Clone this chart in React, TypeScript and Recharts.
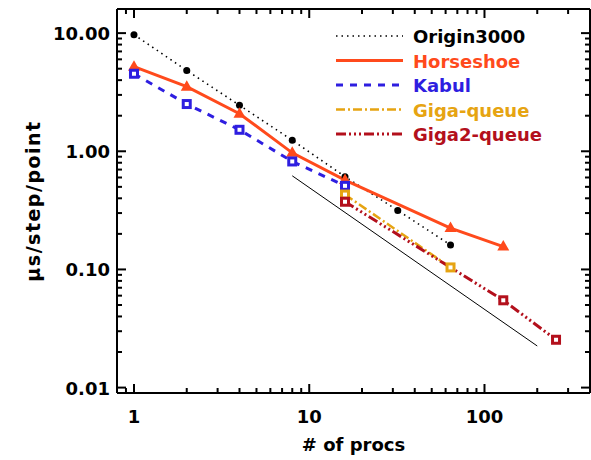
import React from 'react';
import { LineChart, Line, XAxis, YAxis, Label } from 'recharts';

// timings (µs per step per grid point)
const originProcs = [1, 2, 4, 8, 16, 32, 64];
const originTime = [9.7, 4.83, 2.45, 1.24, 0.61, 0.316, 0.161];
const horseshoeProcs = [1, 2, 4, 8, 16, 64, 128];
const horseshoeTime = [5.2, 3.52, 2.08, 0.97, 0.57, 0.224, 0.156];
const kabulProcs = [1, 2, 4, 8, 16];
const kabulTime = [4.53, 2.51, 1.52, 0.82, 0.51];
const gigaProcs = [16, 64];
const gigaTime = [0.43, 0.104];
const giga2Procs = [16, 128, 256];
const giga2Time = [0.374, 0.0548, 0.0254];
// thin reference line (ideal scaling)
const idealProcs = [8, 200];
const idealTime = [0.62, 0.0225];

const xMajorTicks = [1, 10, 100];
const xMinorTicks = [0.9, 2, 3, 4, 5, 6, 7, 8, 9, 20, 30, 40, 50, 60, 70, 80, 90, 200, 300];
const yMajorTicks = [0.01, 0.1, 1, 10];
const yMajorLabels = ['0.01', '0.10', '1.00', '10.00'];
const yMinorTicks = [
  0.02, 0.03, 0.04, 0.05, 0.06, 0.07, 0.08, 0.09,
  0.2, 0.3, 0.4, 0.5, 0.6, 0.7, 0.8, 0.9,
  2, 3, 4, 5, 6, 7, 8, 9,
];

const FONT = '"DejaVu Sans", Verdana, sans-serif';

const toPoints = (xs: number[], ys: number[]) => xs.map((x, i) => ({ x, y: ys[i] }));

type Series = {
  name: string;
  color: string;
  width: number;
  dash?: string;
  marker: 'circle' | 'triangle' | 'square' | 'none';
  data: { x: number; y: number }[];
};

const series: Series[] = [
  { name: 'Origin3000', color: '#000000', width: 1.6, dash: '1.5 4', marker: 'circle', data: toPoints(originProcs, originTime) },
  { name: 'Horseshoe', color: '#ff4a1c', width: 3, marker: 'triangle', data: toPoints(horseshoeProcs, horseshoeTime) },
  { name: 'Kabul', color: '#2e1ee0', width: 3, dash: '7 7', marker: 'square', data: toPoints(kabulProcs, kabulTime) },
  { name: 'Giga-queue', color: '#e6a412', width: 2.5, dash: '9 3 2 3', marker: 'square', data: toPoints(gigaProcs, gigaTime) },
  { name: 'Giga2-queue', color: '#b3101c', width: 3, dash: '10 3 2 3 2 3 2 3', marker: 'square', data: toPoints(giga2Procs, giga2Time) },
];

const idealData = toPoints(idealProcs, idealTime);

function makeDot(s: Series) {
  return (p: any) => {
    const { cx, cy, index } = p;
    if (cx == null || cy == null) return <g key={index} />;
    if (s.marker === 'circle') {
      return <circle key={index} cx={cx} cy={cy} r={3.5} fill={s.color} />;
    }
    if (s.marker === 'triangle') {
      return (
        <path key={index} d={`M${cx},${cy - 6.5} L${cx + 6},${cy + 4} L${cx - 6},${cy + 4} Z`} fill={s.color} />
      );
    }
    if (s.marker === 'square') {
      return (
        <rect key={index} x={cx - 3.5} y={cy - 3.5} width={7} height={7} fill="#fff" stroke={s.color} strokeWidth={3} />
      );
    }
    return <g key={index} />;
  };
}

const textStyle = { fontFamily: FONT, fontWeight: 700, fontSize: 18 } as const;

function BottomTick(props: any) {
  const { x, y, payload } = props;
  const major = xMajorTicks.includes(payload.value);
  return (
    <g>
      <path d={`M${x},${y} L${x},${y - (major ? 9 : 5)}`} stroke="#000" strokeWidth={2} fill="none" />
      {major && (
        <text x={x} y={y + 30} textAnchor="middle" fill="#000" style={textStyle}>
          {payload.value}
        </text>
      )}
    </g>
  );
}

function TopTick(props: any) {
  const { x, y, payload } = props;
  const major = xMajorTicks.includes(payload.value);
  return <path d={`M${x},${y} L${x},${y + (major ? 9 : 5)}`} stroke="#000" strokeWidth={2} fill="none" />;
}

function LeftTick(props: any) {
  const { x, y, payload } = props;
  const idx = yMajorTicks.indexOf(payload.value);
  const major = idx >= 0;
  return (
    <g>
      <path d={`M${x},${y} L${x + (major ? 9 : 5)},${y}`} stroke="#000" strokeWidth={2} fill="none" />
      {major && (
        <text x={x - 7} y={y + 7} textAnchor="end" fill="#000" style={textStyle}>
          {yMajorLabels[idx]}
        </text>
      )}
    </g>
  );
}

function RightTick(props: any) {
  const { x, y, payload } = props;
  const major = yMajorTicks.includes(payload.value);
  return <path d={`M${x},${y} L${x - (major ? 9 : 5)},${y}`} stroke="#000" strokeWidth={2} fill="none" />;
}

const xTicks = [...xMinorTicks, ...xMajorTicks].sort((a, b) => a - b);
const yTicks = [...yMinorTicks, ...yMajorTicks].sort((a, b) => a - b);

function LegendOverlay() {
  const x0 = 336;
  const x1 = 403;
  const top = 36;
  const step = 24.5;
  return (
    <svg width={591} height={460} style={{ position: 'absolute', left: 0, top: 0, pointerEvents: 'none' }}>
      {series.map((s, i) => {
        const y = top + i * step;
        return (
          <g key={s.name}>
            <line x1={x0} x2={x1} y1={y} y2={y} stroke={s.color} strokeWidth={s.width} strokeDasharray={s.dash} />
            <text x={413} y={y + 7} fill={s.color} style={textStyle}>
              {s.name}
            </text>
          </g>
        );
      })}
    </svg>
  );
}

export default function App() {
  return (
    <div style={{ position: 'absolute', left: 0, top: 0, width: 591, height: 460, background: '#fff' }}>
      <LineChart width={591} height={460} margin={{ top: 8, right: 0, bottom: 0, left: 0 }}>
        <XAxis
          xAxisId="bottom"
          type="number"
          dataKey="x"
          scale="log"
          domain={[0.8, 400]}
          allowDataOverflow
          ticks={xTicks}
          interval={0}
          height={67}
          tickSize={0}
          tickMargin={0}
          tickLine={false}
          axisLine={{ stroke: '#000', strokeWidth: 2 }}
          tick={<BottomTick />}
        >
          <Label
            content={(p: any) => {
              const vb = p.viewBox;
              return (
                <text x={vb.x + vb.width / 2} y={vb.y + 58} textAnchor="middle" fill="#000" style={textStyle}>
                  # of procs
                </text>
              );
            }}
          />
        </XAxis>
        <XAxis
          xAxisId="top"
          orientation="top"
          type="number"
          dataKey="x"
          scale="log"
          domain={[0.8, 400]}
          allowDataOverflow
          ticks={xTicks}
          interval={0}
          height={1}
          tickSize={0}
          tickMargin={0}
          tickLine={false}
          axisLine={{ stroke: '#000', strokeWidth: 2 }}
          tick={<TopTick />}
        />
        <YAxis
          yAxisId="left"
          type="number"
          dataKey="y"
          scale="log"
          domain={[0.009, 16]}
          allowDataOverflow
          ticks={yTicks}
          interval={0}
          width={117}
          tickSize={0}
          tickMargin={0}
          tickLine={false}
          axisLine={{ stroke: '#000', strokeWidth: 2 }}
          tick={<LeftTick />}
        >
          <Label
            content={(p: any) => {
              const vb = p.viewBox;
              const cx = 33;
              const cy = vb.y + vb.height / 2;
              return (
                <text
                  x={cx}
                  y={cy}
                  transform={`rotate(-90 ${cx} ${cy})`}
                  textAnchor="middle"
                  dominantBaseline="central"
                  fill="#000"
                  style={{ ...textStyle, fontSize: 19, letterSpacing: 1.5 }}
                >
                  µs/step/point
                </text>
              );
            }}
          />
        </YAxis>
        <YAxis
          yAxisId="right"
          orientation="right"
          type="number"
          dataKey="y"
          scale="log"
          domain={[0.009, 16]}
          allowDataOverflow
          ticks={yTicks}
          interval={0}
          width={1}
          tickSize={0}
          tickMargin={0}
          tickLine={false}
          axisLine={{ stroke: '#000', strokeWidth: 2 }}
          tick={<RightTick />}
        />
        <Line
          xAxisId="bottom"
          yAxisId="left"
          data={idealData}
          dataKey="y"
          type="linear"
          stroke="#000"
          strokeWidth={1}
          dot={false}
          activeDot={false}
          isAnimationActive={false}
        />
        {series.map((s) => (
          <Line
            key={s.name}
            xAxisId="bottom"
            yAxisId="left"
            data={s.data}
            dataKey="y"
            name={s.name}
            type="linear"
            stroke={s.color}
            strokeWidth={s.width}
            strokeDasharray={s.dash}
            dot={makeDot(s)}
            activeDot={false}
            isAnimationActive={false}
          />
        ))}
      </LineChart>
      <LegendOverlay />
    </div>
  );
}
